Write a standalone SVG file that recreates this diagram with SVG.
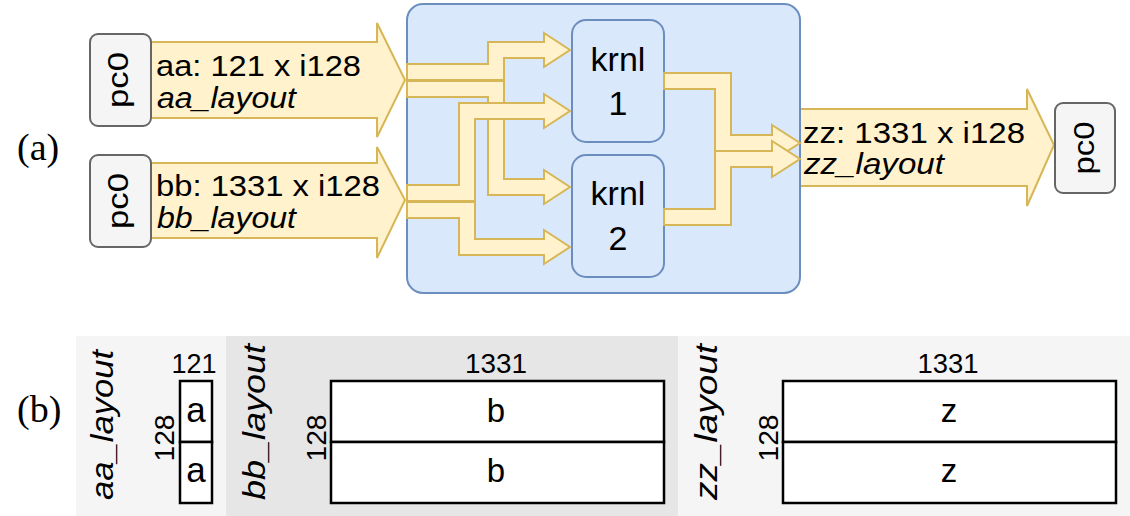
<svg xmlns="http://www.w3.org/2000/svg" width="1130" height="516" viewBox="0 0 1130 516">
<style>
.sans{font-family:"Liberation Sans",Arial,Helvetica,sans-serif;fill:#000}
.serif{font-family:"Liberation Serif","Times New Roman",serif;fill:#000}
.flex{fill:#fff2cc;stroke:#d6b656;stroke-width:2;stroke-linejoin:miter}
.pc{fill:#f5f5f5;stroke:#666666;stroke-width:2}
.blue{fill:#dae8fc;stroke:#6c8ebf;stroke-width:2}
.cell{fill:#ffffff;stroke:#000000;stroke-width:2.5}
.lbl{font-size:29px}
.it{font-style:italic}
.dim{font-size:27px}
.big{font-size:34px}
</style>
<rect width="1130" height="516" fill="#ffffff"/>

<!-- (a) section -->
<text class="serif" x="17" y="160" font-size="38">(a)</text>

<g id="connectors">
  <!-- big input/output arrows -->
  <g id="arrow-aa">
    <polygon class="flex" points="149,42 377,42 377,23 405,80 377,137 377,118 149,118"/>
    <text class="sans lbl" x="156" y="76" textLength="205" lengthAdjust="spacingAndGlyphs">aa: 121 x i128</text>
    <text class="sans lbl it" x="157" y="108" textLength="139" lengthAdjust="spacingAndGlyphs">aa_layout</text>
  </g>
  <g id="arrow-bb">
    <polygon class="flex" points="149,163 377,163 377,147 405,200 377,258 377,238 149,238"/>
    <text class="sans lbl" x="156" y="196" textLength="224" lengthAdjust="spacingAndGlyphs">bb: 1331 x i128</text>
    <text class="sans lbl it" x="157" y="228" textLength="139" lengthAdjust="spacingAndGlyphs">bb_layout</text>
  </g>
  <g id="arrow-zz">
    <polygon class="flex" points="800,109 1027,109 1027,89 1054,145 1027,206 1027,186 800,186"/>
  </g>
</g>

<g id="kernel-group">
  <rect class="blue" x="407" y="4" width="393" height="289" rx="16"/>
</g>

<g id="krnl1">
  <rect class="blue" x="572" y="20" width="92" height="122" rx="14"/>
  <text class="sans big" x="618" y="71" text-anchor="middle">krnl</text>
  <text class="sans big" x="618" y="115" text-anchor="middle">1</text>
</g>
<g id="krnl2">
  <rect class="blue" x="572" y="155" width="92" height="122" rx="14"/>
  <text class="sans big" x="618" y="205" text-anchor="middle">krnl</text>
  <text class="sans big" x="618" y="250" text-anchor="middle">2</text>
</g>

<g id="inner-connectors">
  <!-- aa -> krnl1 -->
  <polygon class="flex" points="407,64 488,64 488,42 544,42 544,33 570,50 544,67 544,58 504,58 504,80 407,80"/>
  <!-- aa -> krnl2 -->
  <polygon class="flex" points="407,81 504,81 504,179 544,179 544,170 570,187 544,204 544,195 488,195 488,97 407,97"/>
  <!-- bb -> krnl1 -->
  <polygon class="flex" points="407,185 459,185 459,103 544,103 544,94 570,111 544,128 544,119 475,119 475,201 407,201"/>
  <!-- bb -> krnl2 -->
  <polygon class="flex" points="407,202 475,202 475,239 544,239 544,230 570,247 544,264 544,255 459,255 459,218 407,218"/>
  <!-- krnl1 -> out -->
  <polygon class="flex" points="664,73 731,73 731,135 772,135 772,125 800,143 772,161 772,151 715,151 715,89 664,89"/>
  <!-- krnl2 -> out -->
  <polygon class="flex" points="664,209 715,209 715,151 772,151 772,141 800,159 772,177 772,167 731,167 731,225 664,225"/>
</g>

<g id="zz-label">
  <text class="sans lbl" x="803" y="143" textLength="222" lengthAdjust="spacingAndGlyphs">zz: 1331 x i128</text>
  <text class="sans lbl it" x="804" y="174" textLength="140" lengthAdjust="spacingAndGlyphs">zz_layout</text>
</g>

<g id="pc0-aa">
  <rect class="pc" x="90" y="34" width="61" height="92" rx="8"/>
  <text class="sans" font-size="29" transform="translate(128,80) rotate(-90)" text-anchor="middle" textLength="56" lengthAdjust="spacingAndGlyphs">pc0</text>
</g>
<g id="pc0-bb">
  <rect class="pc" x="90" y="155" width="61" height="92" rx="8"/>
  <text class="sans" font-size="29" transform="translate(128,201) rotate(-90)" text-anchor="middle" textLength="56" lengthAdjust="spacingAndGlyphs">pc0</text>
</g>
<g id="pc0-out">
  <rect class="pc" x="1055" y="103" width="60" height="90" rx="8"/>
  <text class="sans" font-size="29" transform="translate(1094,148) rotate(-90)" text-anchor="middle" textLength="53" lengthAdjust="spacingAndGlyphs">pc0</text>
</g>

<!-- (b) section -->
<text class="serif" x="17" y="422" font-size="38">(b)</text>

<g id="aa-layout">
  <rect x="76" y="336" width="150" height="180" fill="#f5f5f5"/>
  <text class="sans it" font-size="31" transform="translate(113,425) rotate(-90)" text-anchor="middle" textLength="150" lengthAdjust="spacingAndGlyphs">aa_layout</text>
  <text class="sans dim" x="194" y="373" text-anchor="middle">121</text>
  <text class="sans dim" transform="translate(174,438) rotate(-90)" text-anchor="middle" textLength="47" lengthAdjust="spacingAndGlyphs">128</text>
  <rect class="cell" x="180" y="381" width="32" height="61"/>
  <rect class="cell" x="180" y="442" width="32" height="61"/>
  <text class="sans" font-size="35" x="196" y="422" text-anchor="middle">a</text>
  <text class="sans" font-size="35" x="196" y="482" text-anchor="middle">a</text>
</g>

<g id="bb-layout">
  <rect x="226" y="336" width="452" height="180" fill="#e6e6e6"/>
  <text class="sans it" font-size="31" transform="translate(265,422) rotate(-90)" text-anchor="middle" textLength="156" lengthAdjust="spacingAndGlyphs">bb_layout</text>
  <text class="sans dim" x="496" y="373" text-anchor="middle" textLength="62" lengthAdjust="spacingAndGlyphs">1331</text>
  <text class="sans dim" transform="translate(326,438) rotate(-90)" text-anchor="middle" textLength="47" lengthAdjust="spacingAndGlyphs">128</text>
  <rect class="cell" x="331" y="381" width="333" height="61"/>
  <rect class="cell" x="331" y="442" width="333" height="61"/>
  <text class="sans" font-size="33" x="496" y="422" text-anchor="middle">b</text>
  <text class="sans" font-size="33" x="496" y="482" text-anchor="middle">b</text>
</g>

<g id="zz-layout">
  <rect x="678" y="336" width="452" height="180" fill="#f5f5f5"/>
  <text class="sans it" font-size="31" transform="translate(717,422) rotate(-90)" text-anchor="middle" textLength="156" lengthAdjust="spacingAndGlyphs">zz_layout</text>
  <text class="sans dim" x="948" y="373" text-anchor="middle" textLength="61" lengthAdjust="spacingAndGlyphs">1331</text>
  <text class="sans dim" transform="translate(778,438) rotate(-90)" text-anchor="middle" textLength="47" lengthAdjust="spacingAndGlyphs">128</text>
  <rect class="cell" x="783" y="381" width="333" height="61"/>
  <rect class="cell" x="783" y="442" width="333" height="61"/>
  <text class="sans" font-size="33" x="949" y="422" text-anchor="middle">z</text>
  <text class="sans" font-size="33" x="949" y="482" text-anchor="middle">z</text>
</g>
</svg>
